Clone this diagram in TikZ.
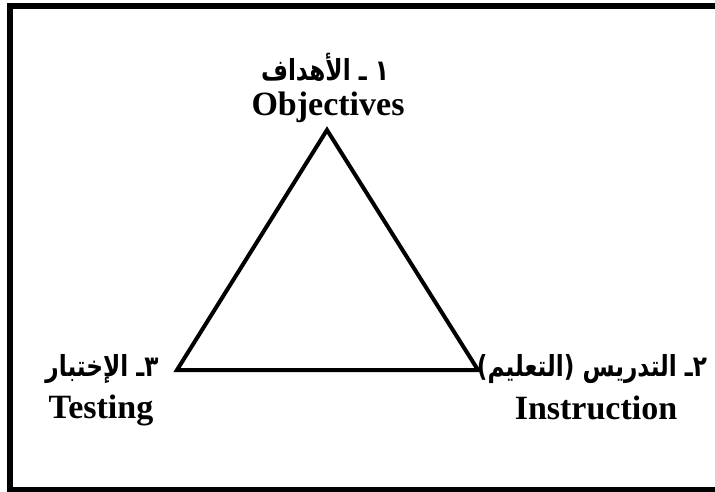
\documentclass[tikz,border=0pt]{standalone}
\usepackage{fontspec}
\setmainfont{Liberation Serif}
\newfontfamily\arabicfont[Script=Arabic,FakeStretch=0.8]{DejaVu Sans}
\TeXXeTstate=1
\tikzset{
  latin/.style = {font=\fontsize{34}{40}\bfseries\selectfont, anchor=base, inner sep=0pt},
  arabic/.style = {font=\arabicfont\fontsize{29}{34}\bfseries\selectfont, anchor=base, inner sep=0pt}
}

\begin{document}
\begin{tikzpicture}[x=1pt,y=-1pt]
  \useasboundingbox (0,0) rectangle (715,492);
  \pgfmathsetmacro{\Frame}{6};
  %
  \coordinate (obj) at (327,130);
  \coordinate (ins) at (478,370);
  \coordinate (tst) at (177,370);
  %
  % frame
  \draw[line width=\Frame] (715,6) -- (10,6) -- (10,489.5) -- (715,489.5);
  % triangle
  \draw[line width=4, line join=miter] (obj) -- (ins) -- (tst) -- cycle;
  % labels
  \node[arabic] (objar) at (325,81) {\beginR ١ ـ الأهداف\endR};
  \node[latin] (objen) at (328,116) {Objectives};
  \node[arabic] (tstar) at (102,376) {\beginR ٣ـ الإختبار\endR};
  \node[latin] (tsten) at (101,418) {Testing};
  \node[arabic] (insar) at (592,376) {\beginR ٢ـ التدريس (التعليم)\endR};
  \node[latin] (insen) at (596,419) {Instruction};
\end{tikzpicture}
\end{document}
